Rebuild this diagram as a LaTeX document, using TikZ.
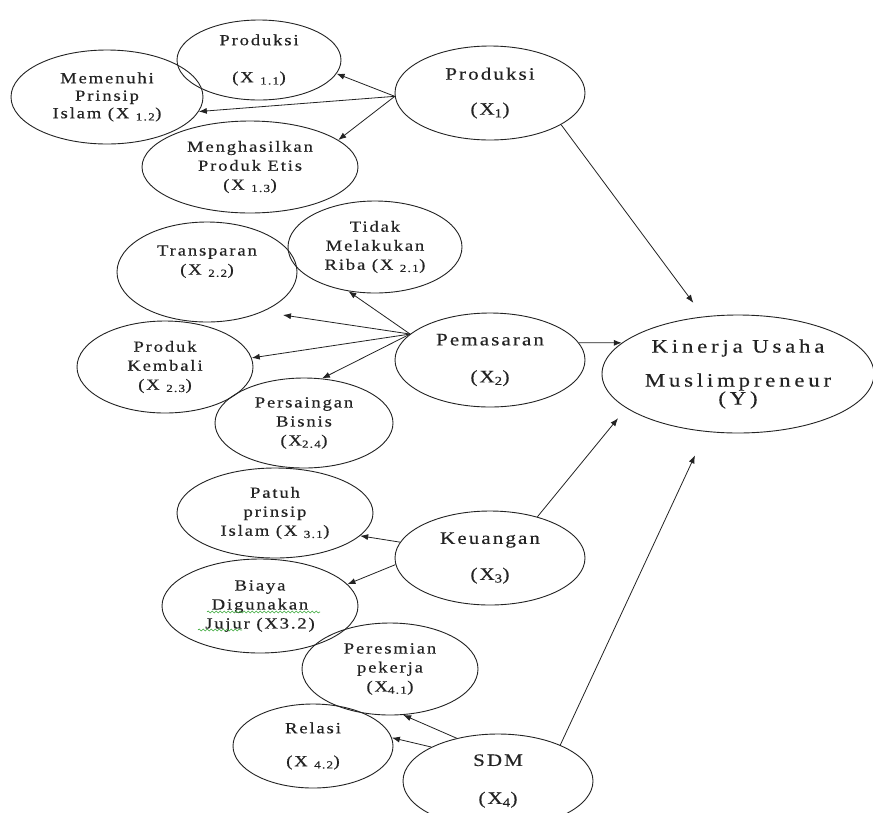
\documentclass[tikz,border=0pt]{standalone}
\usepackage{fontspec}
\setmainfont{Liberation Serif}[FakeStretch=1.2,LetterSpace=12,FakeBold=0.4]
\usepackage{xcolor}
\usetikzlibrary{arrows.meta,shapes.geometric,decorations.pathmorphing}
\definecolor{wavegreen}{RGB}{60,170,60}
\definecolor{ink}{RGB}{35,35,35}
\begin{document}
\begin{tikzpicture}[x=1pt,y=-1pt,
  ell/.style={draw=ink, line width=0.9pt, ellipse, inner sep=0pt, align=center,
    font=\fontsize{15.5}{19}\selectfont, text=ink},
  mainell/.style={ell, font=\fontsize{17.5}{21}\selectfont, minimum width=190pt, minimum height=94pt},
  arr/.style={-{Latex[length=8pt,width=6pt]}, line width=0.8pt, draw=ink},
  wavy/.style={draw=wavegreen, line width=0.6pt, decorate,
    decoration={snake, amplitude=1pt, segment length=4pt}}]
\useasboundingbox (0,0) rectangle (873,812);
\fill[white] (0,0) rectangle (873,812);

% Produksi group
\node[ell, minimum width=164pt, minimum height=80pt] (X11) at (259,60) {Produksi\\[18pt](X~\textsubscript{1.1})};
\node[ell, minimum width=192pt, minimum height=94pt] (X12) at (107,97) {Memenuhi\\[-1.5pt]Prinsip\\[-1.5pt]Islam (X~\textsubscript{1.2})};
\node[ell, minimum width=216pt, minimum height=92pt] (X13) at (250,167) {Menghasilkan\\Produk Etis\\(X~\textsubscript{1.3})};
\node[mainell] (X1) at (490,93) {Produksi\\[14pt](X\textsubscript{1})};

% Pemasaran group
\node[ell, minimum width=174pt, minimum height=92pt] (X21) at (375,247) {Tidak\\Melakukan\\Riba (X~\textsubscript{2.1})};
\node[ell, minimum width=180pt, minimum height=100pt] (X22) at (207,272) {Transparan\\(X~\textsubscript{2.2})\\[5pt]\mbox{}};
\node[ell, minimum width=176pt, minimum height=92pt] (X23) at (165,367) {Produk\\Kembali\\(X~\textsubscript{2.3})};
\node[ell, minimum width=178pt, minimum height=90pt] (X24) at (304,423) {Persaingan\\Bisnis\\(X\textsubscript{2.4})};
\node[mainell] (X2) at (490,360) {Pemasaran\\[16pt](X\textsubscript{2})};

% Y
\node[ell, font=\fontsize{19}{22}\selectfont\addfontfeatures{LetterSpace=20}, minimum width=272pt, minimum height=118pt] (Y) at (738,374) {Kinerja Usaha\\[12pt]Muslimpreneur\\[-4pt](Y)};

% Keuangan group
\node[ell, minimum width=196pt, minimum height=90pt] (X31) at (275,513) {Patuh\\prinsip\\Islam (X~\textsubscript{3.1})};
\node[ell, minimum width=196pt, minimum height=94pt] (X32) at (260,606) {Biaya\\Digunakan\\Jujur (X3.2)};
\node[mainell] (X3) at (490,558) {Keuangan\\[15pt](X\textsubscript{3})};

% SDM group
\node[ell, minimum width=176pt, minimum height=92pt] (X41) at (390,669) {Peresmian\\pekerja\\(X\textsubscript{4.1})};
\node[ell, minimum width=160pt, minimum height=84pt] (X42) at (313,746) {Relasi\\[14pt](X~\textsubscript{4.2})};
\node[mainell] (X4) at (498,781) {SDM\\[17pt](X\textsubscript{4})};

\coordinate (t22) at (283,315);

% spell-check wavy underlines
\draw[wavy] ([shift={(-53,6)}]X32.center) -- ([shift={(60,6)}]X32.center);
\draw[wavy] ([shift={(-62,24)}]X32.center) -- ([shift={(-18,24)}]X32.center);

% arrows
\draw[arr] (X1.182) -- (X11.-10);
\draw[arr] (X1.182) -- (X12.-9);
\draw[arr] (X1.182) -- (X13.17);
\draw[arr, shorten >=17pt] (X1.-24) -- (Y.121.6);

\draw[arr] (X2.162) -- (X21.-121);
\draw[arr] (X2.162) -- (t22);
\draw[arr] (X2.162) -- (X23.6);
\draw[arr] (X2.162) -- (X24.68);
\draw[arr] (X2.11) -- (Y.165);

\draw[arr] (X3.170) -- (X31.-15.5);
\draw[arr] (X3.184) -- (X32.14);
\draw[arr, shorten >=13pt] (X3.41) -- (Y.197);

\draw[arr] (X4.134) -- (X41.-74);
\draw[arr] (X4.153) -- (X42.6);
\draw[arr, shorten >=26pt] (X4.30) -- (Y.-119);
\end{tikzpicture}
\end{document}
